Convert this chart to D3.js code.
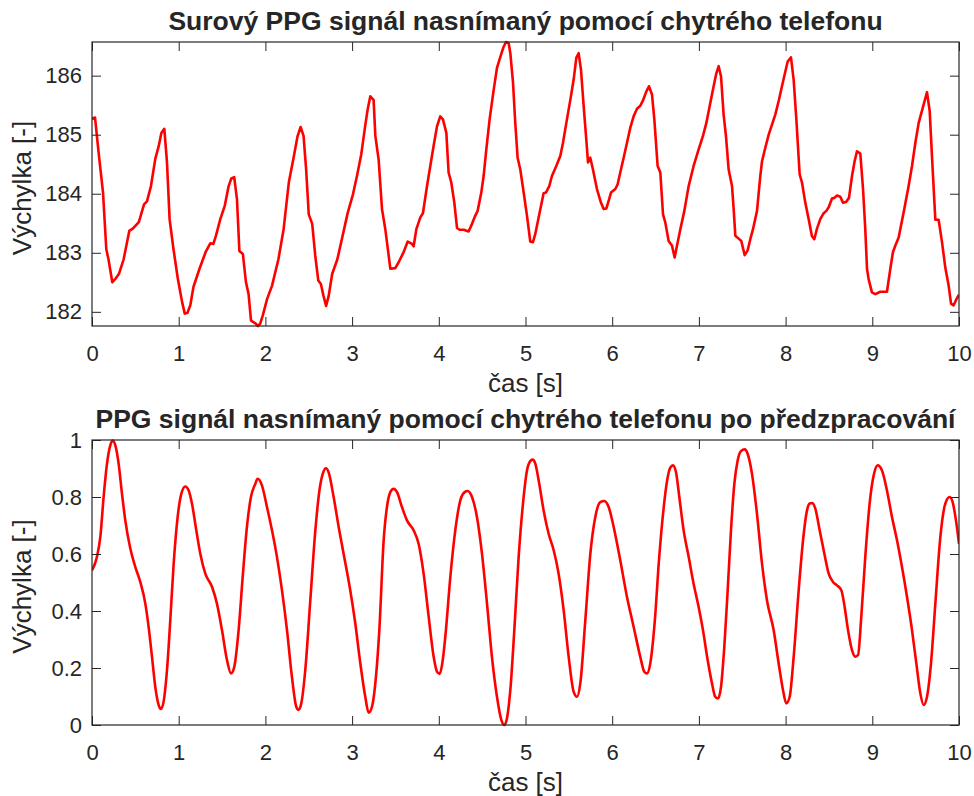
<!DOCTYPE html>
<html>
<head>
<meta charset="utf-8">
<script src="https://cdn.jsdelivr.net/npm/d3@7/dist/d3.min.js"></script>
<style>
  html, body { margin: 0; padding: 0; background: #fff; }
  svg { display: block; }
  text { font-family: "Liberation Sans", Arial, Helvetica, sans-serif; fill: #262626; }
</style>
</head>
<body>
<svg id="chart" width="974" height="796"></svg>
<script>
// Raw PPG signal from the phone camera (time in s, amplitude)
const rawTime = [
  0.000, 0.035, 0.076, 0.127, 0.165, 0.190, 0.234, 0.270, 0.310, 0.365,
  0.430, 0.470, 0.540, 0.600, 0.634, 0.680, 0.730, 0.770, 0.800, 0.834,
  0.865, 0.895, 0.940, 0.990, 1.040, 1.070, 1.100, 1.134, 1.170, 1.240,
  1.310, 1.364, 1.400, 1.430, 1.480, 1.530, 1.576, 1.607, 1.640, 1.672,
  1.700, 1.740, 1.776, 1.806, 1.834, 1.880, 1.915, 1.940, 1.970, 2.020,
  2.076, 2.150, 2.210, 2.270, 2.325, 2.370, 2.406, 2.440, 2.470, 2.500,
  2.540, 2.575, 2.610, 2.640, 2.670, 2.700, 2.730, 2.770, 2.830, 2.900,
  2.950, 3.010, 3.056, 3.106, 3.150, 3.180, 3.210, 3.248, 3.268, 3.306,
  3.345, 3.383, 3.441, 3.498, 3.537, 3.594, 3.641, 3.691, 3.710, 3.741,
  3.787, 3.817, 3.864, 3.902, 3.940, 3.979, 4.017, 4.048, 4.087, 4.113,
  4.144, 4.179, 4.210, 4.240, 4.287, 4.344, 4.383, 4.421, 4.448, 4.490,
  4.517, 4.548, 4.586, 4.633, 4.671, 4.717, 4.748, 4.775, 4.806, 4.825,
  4.856, 4.882, 4.909, 4.940, 4.979, 5.017, 5.055, 5.086, 5.113, 5.152,
  5.209, 5.236, 5.274, 5.305, 5.355, 5.401, 5.432, 5.478, 5.517, 5.555,
  5.586, 5.613, 5.640, 5.671, 5.701, 5.721, 5.747, 5.778, 5.824, 5.870,
  5.901, 5.932, 5.959, 5.986, 6.036, 6.063, 6.093, 6.132, 6.170, 6.209,
  6.247, 6.286, 6.324, 6.355, 6.393, 6.424, 6.459, 6.486, 6.524, 6.555,
  6.586, 6.613, 6.651, 6.690, 6.720, 6.747, 6.786, 6.832, 6.882, 6.939,
  6.997, 7.047, 7.086, 7.132, 7.170, 7.201, 7.228, 7.255, 7.285, 7.312,
  7.343, 7.382, 7.401, 7.420, 7.459, 7.489, 7.528, 7.562, 7.593, 7.624,
  7.670, 7.708, 7.728, 7.766, 7.805, 7.843, 7.881, 7.920, 7.958, 7.997,
  8.024, 8.062, 8.093, 8.124, 8.162, 8.189, 8.227, 8.266, 8.304, 8.331,
  8.362, 8.400, 8.439, 8.470, 8.497, 8.535, 8.562, 8.593, 8.631, 8.662,
  8.697, 8.731, 8.766, 8.796, 8.823, 8.862, 8.893, 8.919, 8.939, 8.958,
  8.996, 9.035, 9.092, 9.169, 9.208, 9.238, 9.265, 9.304, 9.331, 9.369,
  9.419, 9.458, 9.496, 9.535, 9.581, 9.631, 9.662, 9.692, 9.727, 9.765,
  9.804, 9.842, 9.881, 9.908, 9.938, 9.969, 10.000
];
const rawValue = [
  185.27, 185.29, 184.70, 184.02, 183.06, 182.89, 182.50, 182.56, 182.64, 182.89,
  183.37, 183.41, 183.52, 183.82, 183.87, 184.13, 184.59, 184.81, 185.03, 185.10,
  184.53, 183.57, 183.06, 182.56, 182.16, 181.97, 181.98, 182.11, 182.42, 182.73,
  183.01, 183.16, 183.15, 183.29, 183.57, 183.79, 184.13, 184.26, 184.28, 183.91,
  183.03, 182.98, 182.50, 182.30, 181.85, 181.81, 181.76, 181.80, 181.94, 182.22,
  182.44, 182.89, 183.40, 184.19, 184.61, 184.97, 185.13, 184.98, 184.41, 183.65,
  183.49, 182.95, 182.53, 182.47, 182.27, 182.10, 182.27, 182.64, 182.89, 183.35,
  183.68, 183.99, 184.30, 184.67, 185.14, 185.43, 185.65, 185.59, 184.98, 184.58,
  183.74, 183.40, 182.73, 182.74, 182.84, 183.01, 183.19, 183.15, 183.11, 183.40,
  183.60, 183.67, 184.13, 184.47, 184.81, 185.14, 185.31, 185.26, 185.03, 184.36,
  184.19, 183.85, 183.42, 183.39, 183.39, 183.36, 183.49, 183.63, 183.71, 184.02,
  184.30, 184.75, 185.26, 185.76, 186.13, 186.35, 186.49, 186.57, 186.55, 186.38,
  185.88, 185.20, 184.61, 184.41, 184.02, 183.63, 183.19, 183.18, 183.32, 183.60,
  184.01, 184.02, 184.13, 184.30, 184.47, 184.64, 184.86, 185.26, 185.59, 185.93,
  186.30, 186.38, 186.10, 185.48, 184.92, 184.53, 184.61, 184.41, 184.08, 183.85,
  183.74, 183.75, 183.88, 184.02, 184.08, 184.16, 184.36, 184.61, 184.86, 185.12,
  185.31, 185.44, 185.49, 185.58, 185.73, 185.82, 185.68, 185.26, 184.47, 184.36,
  183.65, 183.51, 183.20, 183.12, 182.92, 183.12, 183.40, 183.71, 184.13, 184.47,
  184.75, 184.98, 185.20, 185.54, 185.82, 186.04, 186.16, 185.99, 185.34, 184.98,
  184.41, 184.13, 183.74, 183.29, 183.24, 183.20, 182.96, 183.04, 183.23, 183.40,
  183.71, 184.30, 184.55, 184.78, 185.00, 185.17, 185.34, 185.57, 185.82, 186.07,
  186.24, 186.31, 185.93, 185.26, 184.33, 184.19, 183.85, 183.57, 183.28, 183.23,
  183.41, 183.57, 183.67, 183.71, 183.77, 183.92, 183.93, 183.97, 183.95, 183.85,
  183.86, 183.93, 184.30, 184.55, 184.72, 184.68, 184.08, 183.40, 182.73, 182.55,
  182.33, 182.30, 182.34, 182.34, 182.73, 183.01, 183.12, 183.26, 183.46, 183.74,
  184.13, 184.47, 184.86, 185.20, 185.45, 185.72, 185.40, 184.53, 183.56, 183.56,
  183.18, 182.75, 182.44, 182.14, 182.11, 182.21, 182.29
];

// Pre-processed (filtered, normalised) PPG signal
const procTime = [
  0.000, 0.057, 0.096, 0.134, 0.173, 0.211, 0.238, 0.269, 0.307, 0.346,
  0.384, 0.442, 0.499, 0.557, 0.615, 0.653, 0.692, 0.730, 0.769, 0.795,
  0.826, 0.865, 0.903, 0.942, 0.988, 1.030, 1.076, 1.115, 1.153, 1.203,
  1.249, 1.307, 1.384, 1.441, 1.499, 1.557, 1.603, 1.641, 1.691, 1.741,
  1.787, 1.833, 1.883, 1.910, 1.960, 2.018, 2.076, 2.133, 2.191, 2.249,
  2.306, 2.356, 2.383, 2.414, 2.460, 2.518, 2.576, 2.626, 2.664, 2.699,
  2.729, 2.787, 2.845, 2.902, 2.972, 3.037, 3.095, 3.152, 3.191, 3.229,
  3.275, 3.314, 3.364, 3.402, 3.441, 3.479, 3.518, 3.575, 3.633, 3.710,
  3.767, 3.825, 3.883, 3.941, 3.979, 4.010, 4.037, 4.075, 4.133, 4.190,
  4.248, 4.298, 4.333, 4.383, 4.440, 4.498, 4.556, 4.613, 4.671, 4.721,
  4.756, 4.786, 4.825, 4.871, 4.921, 4.971, 5.017, 5.055, 5.082, 5.113,
  5.152, 5.209, 5.267, 5.325, 5.382, 5.440, 5.498, 5.555, 5.594, 5.632,
  5.690, 5.748, 5.805, 5.863, 5.909, 5.959, 6.017, 6.093, 6.170, 6.247,
  6.324, 6.370, 6.401, 6.439, 6.490, 6.540, 6.593, 6.632, 6.670, 6.701,
  6.736, 6.774, 6.824, 6.882, 6.939, 6.997, 7.047, 7.101, 7.151, 7.189,
  7.220, 7.255, 7.293, 7.332, 7.370, 7.409, 7.447, 7.485, 7.528, 7.562,
  7.612, 7.670, 7.728, 7.785, 7.862, 7.920, 7.970, 8.008, 8.047, 8.093,
  8.151, 8.201, 8.247, 8.277, 8.312, 8.343, 8.393, 8.447, 8.497, 8.547,
  8.593, 8.643, 8.681, 8.720, 8.766, 8.804, 8.835, 8.873, 8.919, 8.969,
  9.016, 9.062, 9.112, 9.169, 9.227, 9.285, 9.342, 9.400, 9.458, 9.508,
  9.554, 9.592, 9.631, 9.677, 9.727, 9.785, 9.842, 9.892, 9.927, 9.965,
  10.000
];
const procValue = [
  0.543, 0.590, 0.660, 0.800, 0.917, 0.981, 0.998, 0.981, 0.917, 0.811,
  0.718, 0.619, 0.555, 0.502, 0.426, 0.344, 0.239, 0.134, 0.070, 0.056,
  0.082, 0.193, 0.368, 0.566, 0.730, 0.811, 0.837, 0.823, 0.777, 0.683,
  0.601, 0.531, 0.485, 0.426, 0.333, 0.228, 0.181, 0.204, 0.333, 0.531,
  0.695, 0.800, 0.846, 0.864, 0.841, 0.765, 0.683, 0.590, 0.473, 0.333,
  0.169, 0.064, 0.053, 0.076, 0.193, 0.438, 0.683, 0.829, 0.884, 0.901,
  0.887, 0.800, 0.695, 0.601, 0.485, 0.356, 0.216, 0.099, 0.043, 0.064,
  0.169, 0.333, 0.648, 0.765, 0.817, 0.829, 0.817, 0.765, 0.718, 0.683,
  0.636, 0.531, 0.380, 0.239, 0.187, 0.179, 0.210, 0.309, 0.520, 0.683,
  0.788, 0.817, 0.821, 0.800, 0.730, 0.601, 0.426, 0.239, 0.099, 0.018,
  0.000, 0.023, 0.123, 0.333, 0.590, 0.777, 0.893, 0.926, 0.931, 0.917,
  0.858, 0.753, 0.671, 0.613, 0.531, 0.403, 0.239, 0.117, 0.099, 0.146,
  0.368, 0.601, 0.730, 0.782, 0.786, 0.765, 0.695, 0.578, 0.450, 0.345,
  0.239, 0.187, 0.181, 0.216, 0.360, 0.580, 0.760, 0.855, 0.903, 0.911,
  0.887, 0.800, 0.683, 0.590, 0.496, 0.414, 0.333, 0.228, 0.146, 0.099,
  0.093, 0.134, 0.274, 0.473, 0.683, 0.847, 0.928, 0.961, 0.967, 0.952,
  0.882, 0.741, 0.566, 0.438, 0.333, 0.216, 0.123, 0.076, 0.099, 0.239,
  0.473, 0.648, 0.753, 0.777, 0.779, 0.759, 0.683, 0.601, 0.531, 0.502,
  0.490, 0.473, 0.414, 0.333, 0.263, 0.240, 0.245, 0.380, 0.590, 0.776,
  0.876, 0.911, 0.893, 0.823, 0.730, 0.648, 0.555, 0.450, 0.333, 0.216,
  0.111, 0.070, 0.099, 0.216, 0.426, 0.660, 0.777, 0.800, 0.782, 0.718,
  0.636
];

// Axis ticks and text
const timeTicks = [0, 1, 2, 3, 4, 5, 6, 7, 8, 9, 10];
const rawTicks = [182, 183, 184, 185, 186];
const procTicks = [0, 0.2, 0.4, 0.6, 0.8, 1];
const titles = [
  "Surový PPG signál nasnímaný pomocí chytrého telefonu",
  "PPG signál nasnímaný pomocí chytrého telefonu po předzpracování"
];
const xLabel = "čas [s]";
const yLabel = "Výchylka [-]";

const svg = d3.select("#chart");
const axisColor = "#262626";
const lineColor = "#ff0000";
const tickLen = 9;

function panel(opts) {
  const { left, right, top, bottom, times, values, yDomain, yTicks, title, smooth } = opts;
  const x = d3.scaleLinear().domain([0, 10]).range([left, right]);
  const y = d3.scaleLinear().domain(yDomain).range([bottom, top]);
  const g = svg.append("g");

  // clip so the trace stays inside the box
  const clipId = "clip" + Math.round(top);
  svg.append("clipPath").attr("id", clipId)
    .append("rect").attr("x", left).attr("y", top - 2)
    .attr("width", right - left).attr("height", bottom - top + 4);

  const data = times.map((t, i) => [t, values[i]]);
  const line = d3.line()
    .x(d => x(d[0])).y(d => y(d[1]))
    .curve(smooth ? d3.curveMonotoneX : d3.curveLinear);

  g.append("path")
    .datum(data)
    .attr("clip-path", `url(#${clipId})`)
    .attr("d", line)
    .attr("fill", "none")
    .attr("stroke", lineColor)
    .attr("stroke-width", 2.6)
    .attr("stroke-linejoin", "round");

  const fmt = d3.format("~g");
  const styleAxis = sel => {
    sel.select(".domain").remove();
    sel.selectAll(".tick line").attr("stroke", axisColor).attr("stroke-width", 1);
    sel.selectAll(".tick text").attr("fill", axisColor).attr("font-size", 22)
      .attr("font-family", '"Liberation Sans", Arial, sans-serif');
  };

  g.append("g").attr("transform", `translate(0,${bottom})`)
    .call(d3.axisBottom(x).tickValues(timeTicks).tickFormat(fmt)
      .tickSizeInner(-tickLen).tickSizeOuter(0).tickPadding(19))
    .call(styleAxis);
  g.append("g").attr("transform", `translate(0,${top})`)
    .call(d3.axisTop(x).tickValues(timeTicks).tickFormat("")
      .tickSizeInner(-tickLen).tickSizeOuter(0))
    .call(styleAxis);
  g.append("g").attr("transform", `translate(${left},0)`)
    .call(d3.axisLeft(y).tickValues(yTicks).tickFormat(fmt)
      .tickSizeInner(-tickLen).tickSizeOuter(0).tickPadding(10))
    .call(styleAxis);
  g.append("g").attr("transform", `translate(${right},0)`)
    .call(d3.axisRight(y).tickValues(yTicks).tickFormat("")
      .tickSizeInner(-tickLen).tickSizeOuter(0))
    .call(styleAxis);

  // box
  g.append("rect")
    .attr("x", left).attr("y", top)
    .attr("width", right - left).attr("height", bottom - top)
    .attr("fill", "none").attr("stroke", axisColor).attr("stroke-width", 1.2);

  const cx = (left + right) / 2;
  g.append("text")
    .attr("x", cx).attr("y", top - 12)
    .attr("text-anchor", "middle")
    .attr("font-size", 26.5).attr("font-weight", "bold").attr("fill", "#000")
    .text(title);

  g.append("text")
    .attr("x", cx).attr("y", bottom + 66)
    .attr("text-anchor", "middle")
    .attr("font-size", 26)
    .text(xLabel);

  g.append("text")
    .attr("transform", `translate(31,${(top + bottom) / 2 + 4}) rotate(-90)`)
    .attr("text-anchor", "middle")
    .attr("font-size", 26)
    .text(yLabel);
}

panel({
  left: 92, right: 959, top: 42, bottom: 326,
  times: rawTime, values: rawValue,
  yDomain: d3.extent(rawValue), yTicks: rawTicks,
  title: titles[0], smooth: false
});

panel({
  left: 92, right: 959, top: 440, bottom: 725,
  times: procTime, values: procValue,
  yDomain: [0, 1], yTicks: procTicks,
  title: titles[1], smooth: true
});
</script>
</body>
</html>
